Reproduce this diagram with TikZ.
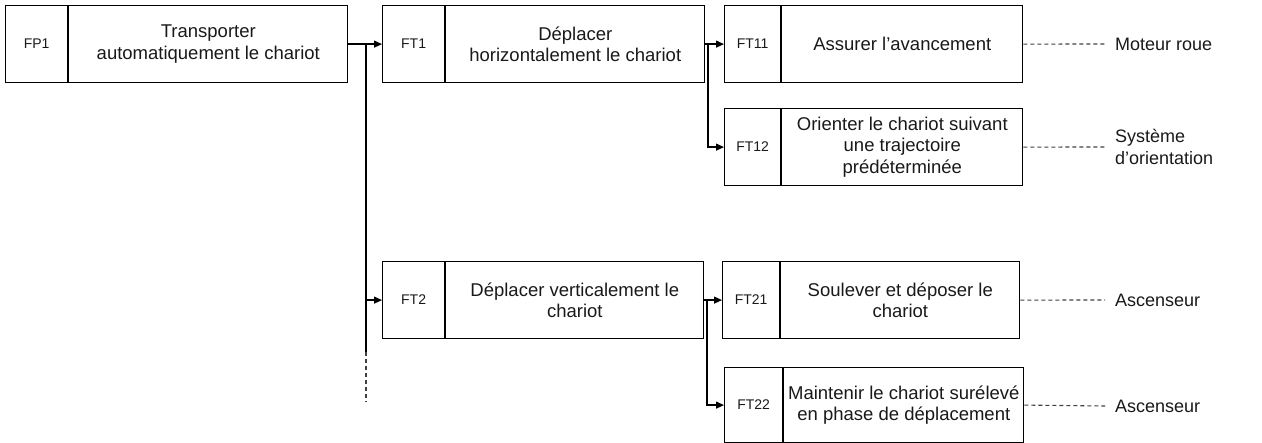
\documentclass[tikz,border=0pt]{standalone}
\usepackage{fontspec}
\setmainfont{Liberation Sans}
\usetikzlibrary{arrows.meta}
\begin{document}
\begin{tikzpicture}[x=1pt,y=-1pt,
  every node/.style={text=black!90},
  codebox/.style={draw=black, line width=1.2pt, rectangle, inner sep=0pt,
    minimum height=77, anchor=north west, font=\fontsize{14}{16}\selectfont},
  textbox/.style={draw=black, line width=1.2pt, rectangle, inner sep=0pt,
    minimum height=77, anchor=north west, align=center,
    font=\fontsize{18.5}{21.5}\selectfont},
  tag/.style={anchor=west, inner sep=0pt, inner xsep=10pt, align=left,
    font=\fontsize{18}{21.5}\selectfont},
  link/.style={line width=1.2pt, draw=black, -{Triangle[length=8pt,width=7pt]}},
  trunk/.style={line width=1.2pt, draw=black},
  dashline/.style={line width=1.1pt, draw=black!75, dash pattern=on 4pt off 3pt}
]
\useasboundingbox (0,0) rectangle (1262,443);

% level 0
\node[codebox, minimum width=62] (fp1) at (5,5) {FP1};
\node[textbox, minimum width=279] (fp1t) at (fp1.north east) {Transporter\\automatiquement le chariot};

% level 1
\node[codebox, minimum width=62] (ft1) at (382,5) {FT1};
\node[textbox, minimum width=259] (ft1t) at (ft1.north east) {Déplacer\\horizontalement le chariot};
\node[codebox, minimum width=62] (ft2) at (382,261) {FT2};
\node[textbox, minimum width=258] (ft2t) at (ft2.north east) {Déplacer verticalement le\\chariot};

% level 2
\node[codebox, minimum width=56] (ft11) at (724,5) {FT11};
\node[textbox, minimum width=241] (ft11t) at (ft11.north east) {Assurer l’avancement};
\node[codebox, minimum width=56] (ft12) at (724,108) {FT12};
\node[textbox, minimum width=241] (ft12t) at (ft12.north east) {Orienter le chariot suivant\\une trajectoire\\prédéterminée};
\node[codebox, minimum width=57] (ft21) at (722,261) {FT21};
\node[textbox, minimum width=239] (ft21t) at (ft21.north east) {Soulever et déposer le\\chariot};
\node[codebox, minimum width=58, minimum height=75] (ft22) at (724,367) {FT22};
\node[textbox, minimum width=240, minimum height=75] (ft22t) at (ft22.north east) {Maintenir le chariot surélevé\\en phase de déplacement};

% solutions
\node[tag] (s11) at (1105,44) {Moteur roue};
\node[tag] (s12) at (1105,147) {Système\\d’orientation};
\node[tag] (s21) at (1105,300) {Ascenseur};
\node[tag] (s22) at (1105,406) {Ascenseur};

% branch points
\coordinate (b0) at (366,43.5);
\coordinate (b0s) at (366,352);
\coordinate (b0e) at (366,402);
\coordinate (b1) at (708,43.5);
\coordinate (b2) at (707,299.5);

% connectors
\draw[link] (fp1t.east) -- (ft1.west);
\draw[link] (b0) |- (ft2.west);
\draw[trunk] (b0) -- (b0s);
\draw[dashline] (b0s) -- (b0e);

\draw[link] (ft1t.east) -- (ft11.west);
\draw[link] (b1) |- (ft12.west);

\draw[link] (ft2t.east) -- (ft21.west);
\draw[link] (b2) |- (ft22.west);

\draw[dashline] (ft11t.east) -- (s11.west);
\draw[dashline] (ft12t.east) -- (s12.west);
\draw[dashline] (ft21t.east) -- (s21.west);
\draw[dashline] (ft22t.east) -- (s22.west);
\end{tikzpicture}
\end{document}
